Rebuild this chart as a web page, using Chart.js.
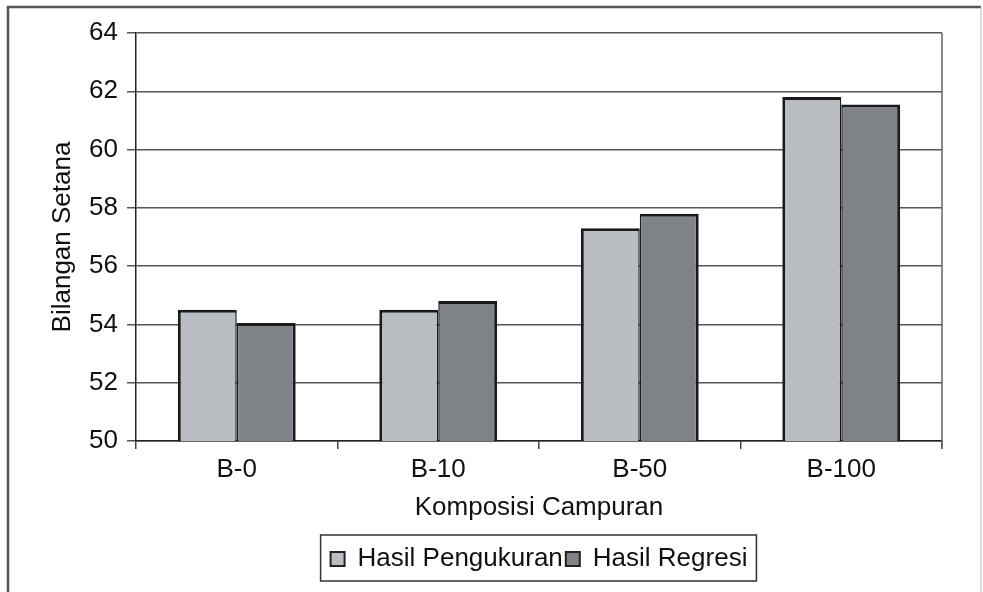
<!DOCTYPE html>
<html>
<head>
<meta charset="utf-8">
<script src="https://cdn.jsdelivr.net/npm/chart.js@4.4.0/dist/chart.umd.min.js"></script>
<style>
  html, body { margin: 0; padding: 0; background: #fff; }
  #wrap { width: 983px; height: 592px; }
</style>
</head>
<body>
<div id="wrap"><canvas id="bars" width="983" height="592"></canvas></div>
<script>
// data
var categories = ["B-0", "B-10", "B-50", "B-100"];
var hasilPengukuran = [54.5, 54.5, 57.3, 61.8];
var hasilRegresi = [54.05, 54.8, 57.8, 61.55];
var yTicks = [50, 52, 54, 56, 58, 60, 62, 64];

var FONT = "'Liberation Sans', Arial, sans-serif";
var FS = 26;

// outer frame + right edge of the plot + box round the legend
var framePlugin = {
  id: 'frame',
  beforeDraw: function (chart) {
    var ctx = chart.ctx;
    ctx.save();
    ctx.fillStyle = '#fff';
    ctx.fillRect(0, 0, chart.width, chart.height);
    ctx.strokeStyle = '#555';
    ctx.lineWidth = 2.5;
    ctx.beginPath();
    ctx.moveTo(8, 592);
    ctx.lineTo(8, 7);
    ctx.lineTo(981, 7);
    ctx.stroke();
    ctx.strokeStyle = '#bbb';
    ctx.lineWidth = 1;
    ctx.beginPath();
    ctx.moveTo(981, 7);
    ctx.lineTo(981, 592);
    ctx.stroke();
    ctx.restore();
  },
  afterDraw: function (chart) {
    var ctx = chart.ctx;
    var a = chart.chartArea;
    ctx.save();
    ctx.strokeStyle = '#666';
    ctx.lineWidth = 1.5;
    ctx.beginPath();
    ctx.moveTo(a.right, a.top);
    ctx.lineTo(a.right, a.bottom + 8);
    ctx.stroke();
    // legend frame
    var boxes = chart.legend.legendHitBoxes;
    if (boxes && boxes.length) {
      var l = boxes[0].left, r = boxes[0].left + boxes[0].width;
      var t = boxes[0].top, b = boxes[0].top + boxes[0].height;
      boxes.forEach(function (h) {
        l = Math.min(l, h.left); r = Math.max(r, h.left + h.width);
        t = Math.min(t, h.top); b = Math.max(b, h.top + h.height);
      });
      ctx.strokeStyle = '#333';
      ctx.lineWidth = 1.5;
      ctx.strokeRect(l - 10, t - 11, r - l + 19, b - t + 20);
    }
    ctx.restore();
  }
};

new Chart(document.getElementById('bars'), {
  type: 'bar',
  data: {
    labels: categories,
    datasets: [
      {
        label: 'Hasil Pengukuran',
        data: hasilPengukuran,
        backgroundColor: '#b9bdc1',
        borderColor: '#1a1a1a',
        borderWidth: { top: 3, left: 3, right: 1.5, bottom: 3 },
        borderSkipped: false,
        categoryPercentage: 0.585,
        barPercentage: 1.0
      },
      {
        label: 'Hasil Regresi',
        data: hasilRegresi,
        backgroundColor: '#7f8387',
        borderColor: '#1a1a1a',
        borderWidth: { top: 3, left: 1.5, right: 3, bottom: 3 },
        borderSkipped: false,
        categoryPercentage: 0.585,
        barPercentage: 1.0
      }
    ]
  },
  options: {
    responsive: false,
    animation: false,
    layout: { padding: { left: 8, right: 41, top: 33, bottom: 10 } },
    plugins: {
      tooltip: { enabled: false },
      legend: {
        position: 'bottom',
        fullSize: false,
        labels: {
          color: '#111',
          font: { family: FONT, size: FS },
          boxWidth: 14,
          boxHeight: 14,
          padding: 3,
          generateLabels: function (chart) {
            var items = Chart.defaults.plugins.legend.labels.generateLabels(chart);
            items.forEach(function (it) { it.lineWidth = 2; it.strokeStyle = '#222'; });
            return items;
          }
        }
      }
    },
    scales: {
      x: {
        offset: true,
        grid: { drawOnChartArea: false, drawTicks: true, tickLength: 8, color: '#444', lineWidth: 1.5 },
        border: { color: '#222', width: 1.5 },
        ticks: { color: '#111', font: { family: FONT, size: FS }, padding: 5 },
        title: {
          display: true,
          text: 'Komposisi Campuran',
          color: '#111',
          font: { family: FONT, size: FS },
          padding: { top: 0, bottom: 20 }
        },
        afterFit: function (scale) { scale.height = 102; }
      },
      y: {
        min: 50,
        max: 64,
        afterBuildTicks: function (scale) {
          scale.ticks = yTicks.map(function (v) { return { value: v }; });
        },
        grid: { color: '#555', lineWidth: 1.5, drawTicks: true, tickLength: 9 },
        border: { color: '#222', width: 1.5 },
        ticks: { color: '#111', font: { family: FONT, size: FS }, padding: 9 },
        title: {
          display: true,
          text: 'Bilangan Setana',
          color: '#111',
          font: { family: FONT, size: FS },
          padding: { top: 39, bottom: 0 }
        },
        afterFit: function (scale) { scale.width = 128; }
      }
    }
  },
  plugins: [framePlugin]
});
</script>
</body>
</html>
